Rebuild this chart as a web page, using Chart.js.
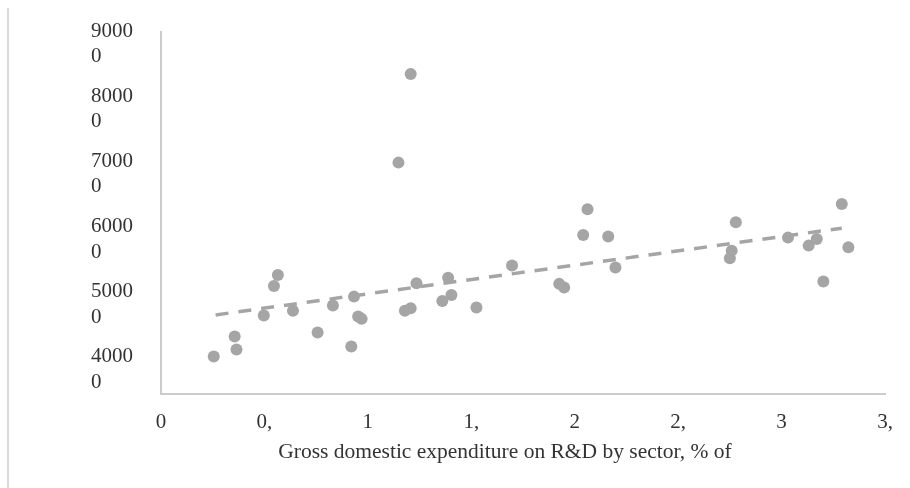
<!DOCTYPE html>
<html>
<head>
<meta charset="utf-8">
<script src="https://cdn.jsdelivr.net/npm/chart.js@4/dist/chart.umd.min.js"></script>
<style>
  html, body { margin: 0; padding: 0; background: #fff; }
  .wrap { position: relative; width: 910px; height: 488px; }
  .frame { position: absolute; left: 7px; top: 8px; bottom: 0; border-left: 2px solid #d9d9d9; }
  canvas { display: block; }
</style>
</head>
<body>
<div class="wrap">
  <div class="frame"></div>
  <canvas id="chart" width="910" height="488"></canvas>
</div>
<script>
// DATA
const rdShare = [
  0.255, 0.356, 0.365, 0.497, 0.546, 0.565, 0.638, 0.757, 0.831, 0.920,
  0.933, 0.953, 0.970, 1.148, 1.179, 1.207, 1.207, 1.235, 1.360, 1.388,
  1.404, 1.525, 1.697, 1.925, 1.949, 2.041, 2.062, 2.162, 2.197, 2.750,
  2.759, 2.779, 3.031, 3.131, 3.170, 3.202, 3.291, 3.323
];
const gdpValue = [
  41950, 45030, 43030, 48250, 52820, 54510, 48980, 45640, 49790, 43490,
  51170, 48130, 47750, 71770, 48980, 49390, 85400, 53230, 50510, 54090,
  51430, 49480, 55940, 53130, 52560, 60660, 64610, 60400, 55630, 57080,
  58240, 62610, 60240, 59010, 60040, 53480, 65420, 58770
];
// trendline end points as drawn
const trendX = [0.264, 3.291];
const trendY = [48360, 61690];

const xTickLabels = ['0', '0,', '1', '1,', '2', '2,', '3', '3,'];
const yTickValues = [40000, 50000, 60000, 70000, 80000, 90000];
const yTickLabels = [['4000', '0'], ['5000', '0'], ['6000', '0'], ['7000', '0'], ['8000', '0'], ['9000', '0']];
const xTitle = 'Gross domestic expenditure on R&D by sector, % of';

const grey = '#a5a5a5';
const textColor = '#333333';
const serif = "'Liberation Serif', 'Times New Roman', serif";

// axis caption sits a little left of the plot centre, as in the original
const captionPlugin = {
  id: 'caption',
  afterDraw(chart) {
    const ctx = chart.ctx;
    const area = chart.chartArea;
    ctx.save();
    ctx.font = '21.5px ' + serif;
    ctx.fillStyle = textColor;
    ctx.textAlign = 'center';
    ctx.textBaseline = 'middle';
    ctx.fillText(xTitle, (area.left + area.right) / 2 - 18, area.bottom + 58);
    ctx.restore();
  }
};

new Chart(document.getElementById('chart'), {
  type: 'scatter',
  data: {
    datasets: [
      {
        data: rdShare.map((x, i) => ({ x: x, y: gdpValue[i] })),
        backgroundColor: grey,
        borderWidth: 0,
        pointRadius: 6,
        pointHoverRadius: 6
      },
      {
        type: 'line',
        data: trendX.map((x, i) => ({ x: x, y: trendY[i] })),
        borderColor: grey,
        borderWidth: 3.5,
        borderDash: [13, 10],
        pointRadius: 0,
        fill: false
      }
    ]
  },
  options: {
    responsive: false,
    animation: false,
    events: [],
    layout: { padding: { left: 91, right: 25, top: 32, bottom: 24 } },
    plugins: { legend: { display: false }, tooltip: { enabled: false } },
    scales: {
      x: {
        type: 'linear',
        min: 0,
        max: 3.5,
        afterFit: s => { s.height = 70; },
        grid: { display: false, drawTicks: false },
        border: { display: true, color: '#cccccc', width: 2 },
        ticks: {
          stepSize: 0.5,
          padding: 16,
          color: textColor,
          font: { family: serif, size: 21, lineHeight: 1.2 },
          callback: (v, i) => xTickLabels[i]
        }
      },
      y: {
        min: 36200,
        max: 91850,
        afterFit: s => { s.width = 70; },
        afterBuildTicks: s => { s.ticks = yTickValues.map(v => ({ value: v })); },
        grid: { display: false, drawTicks: false },
        border: { display: true, color: '#cccccc', width: 2 },
        ticks: {
          crossAlign: 'far',
          color: textColor,
          font: { family: serif, size: 21, lineHeight: 1.22 },
          callback: (v, i) => yTickLabels[i]
        }
      }
    }
  },
  plugins: [captionPlugin]
});
</script>
</body>
</html>
